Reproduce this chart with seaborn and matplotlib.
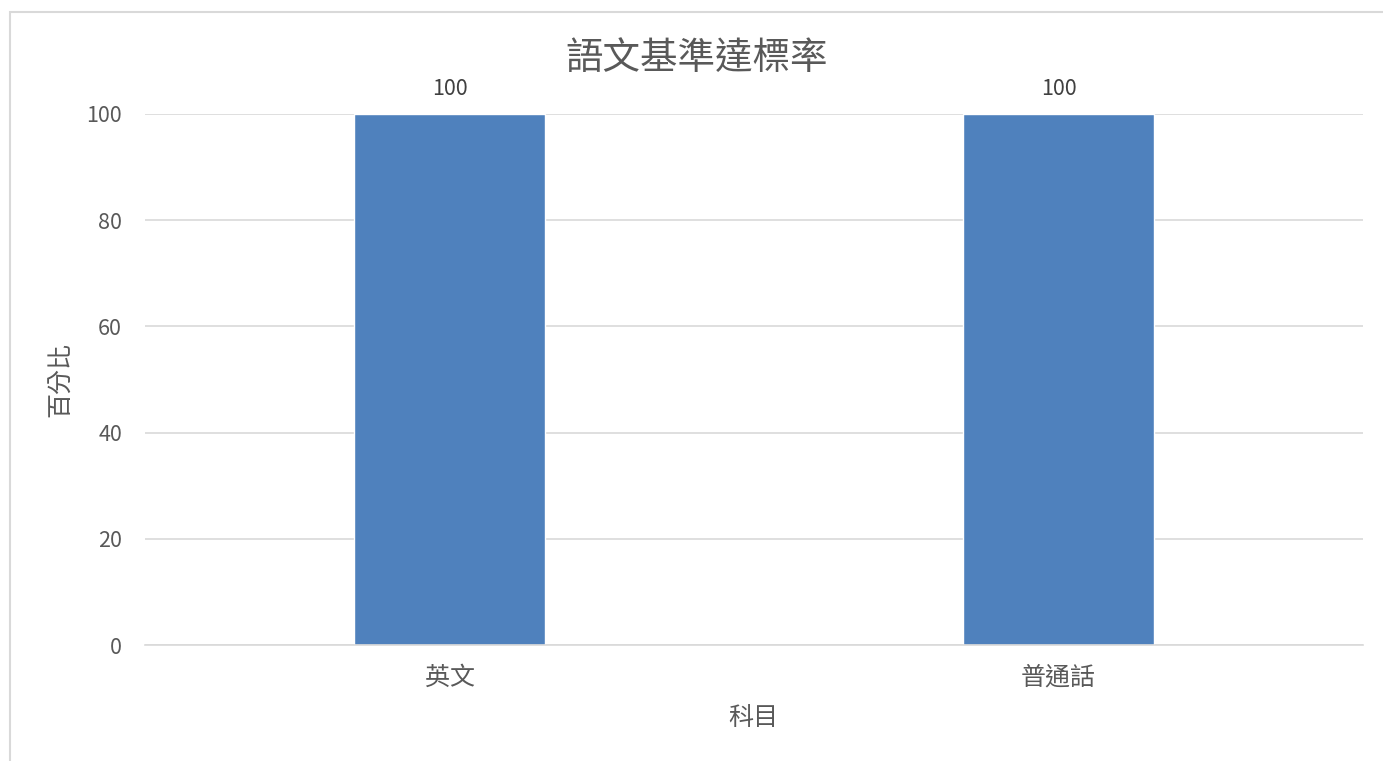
import matplotlib
matplotlib.use("Agg")
import matplotlib.pyplot as plt
import seaborn as sns
import pandas as pd
from matplotlib.patches import Rectangle

subjects = ["英文", "普通話"]
rates = [100, 100]
yticks = [0, 20, 40, 60, 80, 100]

df = pd.DataFrame({"科目": subjects, "百分比": rates})

sns.set_style("white")
plt.rcParams["font.family"] = ["Noto Sans CJK TC", "DejaVu Sans"]

W, H = 1383, 761
fig = plt.figure(figsize=(W / 100, H / 100), dpi=100)
ax = fig.add_axes([145 / W, 1 - 645 / H, (1363 - 145) / W, (645 - 114) / H])

sns.barplot(data=df, x="科目", y="百分比", color="#4F81BD", saturation=1,
            width=0.314, ax=ax)

ax.set_xlim(-0.5, 1.5)
ax.set_ylim(0, 100)
ax.set_yticks(yticks)
ax.yaxis.grid(True, color="#D9D9D9", linewidth=1.2)
ax.set_axisbelow(True)
for s in ["top", "right", "left"]:
    ax.spines[s].set_visible(False)
ax.spines["bottom"].set_color("#D9D9D9")
ax.spines["bottom"].set_linewidth(1.2)
ax.tick_params(axis="y", length=0, labelsize=15.5, colors="#595959", pad=16.5)
ax.tick_params(axis="x", length=0, labelsize=18, colors="#595959", pad=14)

# data labels above the bars
for c in ax.containers:
    ax.bar_label(c, labels=[str(v) for v in rates], padding=10, fontsize=15.5, color="#404040")

ax.set_xlabel("科目", fontsize=18, color="#595959")
ax.set_ylabel("百分比", fontsize=18, color="#595959")
ax.xaxis.set_label_coords(0.4995, (645 - 718) / 531)
ax.xaxis.label.set_va("center")
ax.yaxis.set_label_coords((61 - 145) / 1218, 0.5)
ax.yaxis.label.set_va("center")

fig.text(697 / W, 1 - 58.5 / H, "語文基準達標率", fontsize=27, color="#595959",
         ha="center", va="center")

# light chart-area border (right/bottom edges fall outside the image)
fig.patches.append(Rectangle((10 / W, -0.01), 1.0, (H - 12) / H + 0.01,
                             transform=fig.transFigure, fill=False,
                             edgecolor="#D9D9D9", linewidth=1.5))

fig.savefig("out.png", dpi=100, facecolor="white")
